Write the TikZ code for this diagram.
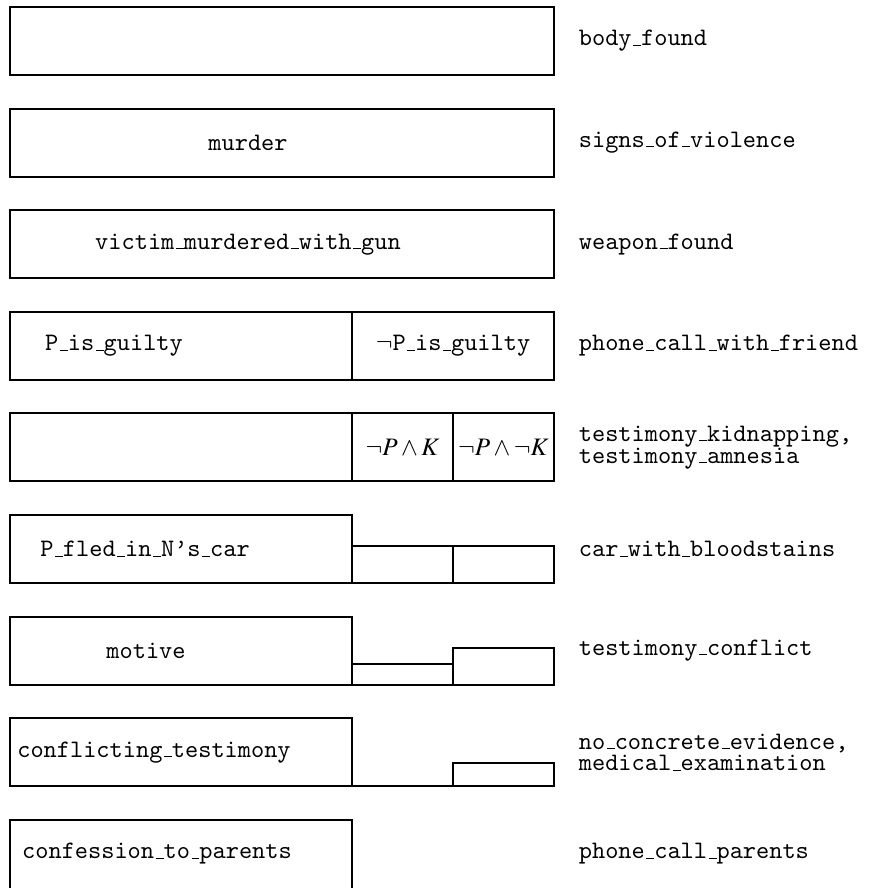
\documentclass[tikz,border=0pt]{standalone}
\usepackage[OT1]{fontenc}
\usepackage{mathptmx}
\renewcommand{\ttdefault}{cmtt}
\usepackage{tikz}
\usetikzlibrary{positioning}

\begin{document}
\begin{tikzpicture}[x=0.398pt, y=-0.398pt,
    bar/.style={thick},
    hyp/.style={font=\ttfamily},
    evid/.style={anchor=west, align=left, font=\ttfamily}]
    \useasboundingbox (0,0) rectangle (876,888);

    % Full-width rows
    \foreach \r in {0,1,2} {
        \draw [bar] (10, 7+101.6*\r) rectangle (554, 75+101.6*\r);
    }
    \node [hyp] (murder) at (248, 142.6) {murder};
    \node [hyp] (gun) at (248, 244.2) {victim\_murdered\_with\_gun};

    % Guilty / not guilty
    \draw [bar] (10, 311.8) rectangle (352, 379.8);
    \draw [bar] (352, 311.8) rectangle (554, 379.8);
    \node [hyp] (guilty) at (114, 345.8) {P\_is\_guilty};
    \node [hyp] (notguilty) at (453, 345.8) {$\neg$P\_is\_guilty};

    % Kidnapping split
    \draw [bar] (10, 413.4) rectangle (352, 481.4);
    \draw [bar] (352, 413.4) rectangle (453, 481.4);
    \draw [bar] (453, 413.4) rectangle (554, 481.4);
    \node (nk) at (402.5, 447.4) {$\neg P \wedge K$};
    \node (nnk) at (503.5, 447.4) {$\neg P \wedge \neg K$};

    % Left column boxes
    \foreach \r in {5,6,7} {
        \draw [bar] (10, 7+101.6*\r) rectangle (352, 75+101.6*\r);
    }
    \draw [bar] (10, 892) |- (352, 819.8) -- (352, 892);
    \node [hyp] (fled) at (145, 549) {P\_fled\_in\_N's\_car};
    \node [hyp] (motive) at (146, 650.6) {motive};
    \node [hyp] (conflict) at (154, 752.2) {conflicting\_testimony};
    \node [hyp] (confess) at (157, 853.8) {confession\_to\_parents};

    % Shrinking parts on the right
    \draw [bar] (352, 546) rectangle (453, 583);
    \draw [bar] (453, 546) rectangle (554, 583);
    \draw [bar] (352, 664) rectangle (453, 684.6);
    \draw [bar] (453, 648) rectangle (554, 684.6);
    \draw [bar] (352, 786.2) -- (453, 786.2);
    \draw [bar] (453, 763) rectangle (554, 786.2);

    % Evidence
    \foreach \i/\txt in {0/{body\_found}, 1/{signs\_of\_violence}, 2/{weapon\_found},
        3/{phone\_call\_with\_friend},
        4/{testimony\_kidnapping,\\[-3.4pt]testimony\_amnesia},
        5/{car\_with\_bloodstains}, 6/{testimony\_conflict},
        7/{no\_concrete\_evidence,\\[-3.4pt]medical\_examination},
        8/{phone\_call\_parents}} {
        \node [evid] (ev\i) at (570, 41+101.6*\i) {\txt};
    }
\end{tikzpicture}
\end{document}
